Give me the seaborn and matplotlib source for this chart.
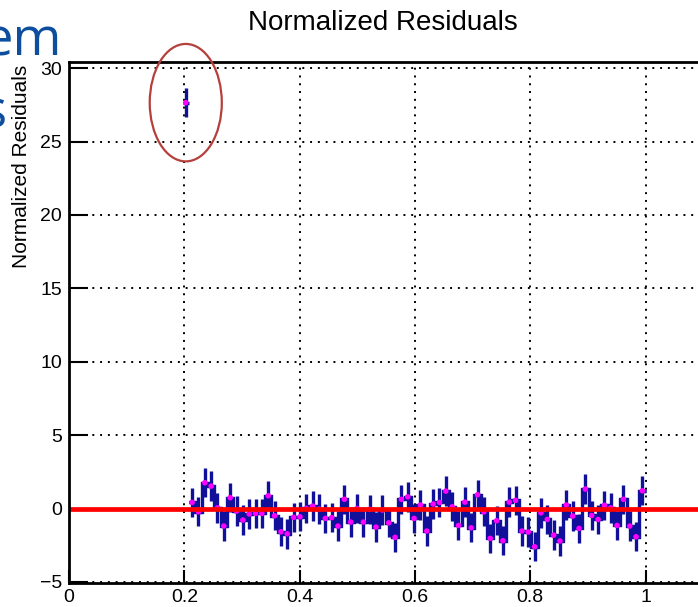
import numpy as np
import pandas as pd
import matplotlib
matplotlib.use("Agg")
import matplotlib.pyplot as plt
from matplotlib.patches import Ellipse
from matplotlib.ticker import MultipleLocator, FixedLocator, FixedFormatter
import seaborn as sns

# Binning of the residual histogram
bin_low = 0.197
bin_width = 0.011

# Normalized residual per bin (first bin is the outlier)
residuals = [
    27.65, 0.42, -0.22, 1.76, 1.53, 0.05, -1.19, 0.74, -0.17, -0.78,
    -0.37, -0.33, -0.33, 0.87, -0.49, -1.58, -1.72, -0.60, -0.56, 0.01,
    0.17, -0.04, -0.67, -0.62, -1.19, 0.63, -0.92, 0.00, -0.92, -0.05,
    -1.26, -0.10, -0.97, -1.96, 0.63, 0.80, -0.67, 0.24, -1.53, 0.31,
    0.42, 1.19, 0.12, -1.15, 0.44, -1.31, 0.94, -0.22, -2.03, -0.83,
    -2.19, 0.44, 0.56, -1.53, -1.60, -2.60, -0.29, -0.74, -1.81, -2.21,
    0.24, -0.51, -1.35, 1.33, -0.47, -0.74, 0.22, 0.05, -1.15, 0.63,
    -1.19, -1.92, 1.21,
]
residual_error = 1.0

x_ticks = [0, 0.2, 0.4, 0.6, 0.8, 1.0]
x_tick_labels = ["0", "0.2", "0.4", "0.6", "0.8", "1"]
y_ticks = [-5, 0, 5, 10, 15, 20, 25, 30]
y_tick_labels = ["\u22125", "0", "5", "10", "15", "20", "25", "30"]

title = "Normalized Residuals"
y_label = "Normalized Residuals"

edges = bin_low + bin_width * np.arange(len(residuals) + 1)
centers = 0.5 * (edges[:-1] + edges[1:])
df = pd.DataFrame({"x": centers, "residual": residuals})

sns.set_theme(style="white")
plt.rcParams["font.family"] = ["Liberation Sans", "DejaVu Sans"]

W, H = 698, 607
fig = plt.figure(figsize=(W / 100, H / 100), dpi=100)
ax = fig.add_axes([69 / W, 24 / H, (W - 69) / W, 521 / H])

blue = "#10109a"
ax.errorbar(centers, residuals, xerr=bin_width / 2, yerr=residual_error,
            fmt="none", ecolor=blue, elinewidth=2.4, capsize=0, zorder=3)
ax.stairs(residuals[1:], edges[1:], baseline=None, color=blue, lw=2.4, zorder=3)
sns.scatterplot(data=df, x="x", y="residual", color="#ff00ff", s=16,
                marker="o", edgecolor="none", linewidth=0, zorder=4, ax=ax,
                legend=False)
ax.axhline(0, color="#ff0000", lw=3.4, zorder=5)

ax.set_xlim(0, (W - 69) / 576.6)
ax.set_ylim(-5.07, 30.42)

ax.xaxis.set_major_locator(FixedLocator(x_ticks))
ax.xaxis.set_major_formatter(FixedFormatter(x_tick_labels))
ax.xaxis.set_minor_locator(MultipleLocator(0.025))
ax.yaxis.set_major_locator(FixedLocator(y_ticks))
ax.yaxis.set_major_formatter(FixedFormatter(y_tick_labels))
ax.yaxis.set_minor_locator(MultipleLocator(1))

ax.tick_params(axis="both", which="both", direction="in", color="black",
               labelcolor="black", labelsize=14, width=1.5)
ax.tick_params(axis="y", which="major", length=13.5, pad=5)
ax.tick_params(axis="y", which="minor", length=6.5)
ax.tick_params(axis="x", which="major", length=9.5, pad=4)
ax.tick_params(axis="x", which="minor", length=4)
ax.tick_params(left=True, bottom=True, right=False, top=False)

ax.set_axisbelow(True)
ax.grid(True, which="major", color="black", linestyle=(0, (1, 3)), linewidth=1.4)

for side in ["left", "bottom", "top"]:
    ax.spines[side].set_visible(True)
    ax.spines[side].set_color("black")
    ax.spines[side].set_linewidth(2.0)
    ax.spines[side].set_zorder(6)
ax.spines["right"].set_visible(False)
ax.set_xlabel("")
ax.set_ylabel("")

# Highlight of the outlying bin
ax.add_patch(Ellipse((centers[0], residuals[0]), width=0.125, height=8.0,
                     fill=False, edgecolor="#b5403b", lw=1.6,
                     clip_on=False, zorder=7))

fig.text(383 / W, 1 - 30 / H, title, ha="center", va="baseline",
         fontsize=20, color="black")
fig.text(22 / W, 1 - 65 / H, y_label, rotation=90, ha="center", va="top",
         fontsize=15, color="black")

# Slide heading fragments behind the plot
heading_blue = "#0d4f9e"
fig.text(62 / W, 1 - 55 / H, "em", ha="right", va="baseline", fontsize=38,
         color=heading_blue, family=["Open Sans", "DejaVu Sans"])
fig.text(6 / W, 1 - 128 / H, "s", ha="right", va="baseline", fontsize=38,
         color=heading_blue, family=["Open Sans", "DejaVu Sans"])

fig.savefig("out.png", dpi=100)
